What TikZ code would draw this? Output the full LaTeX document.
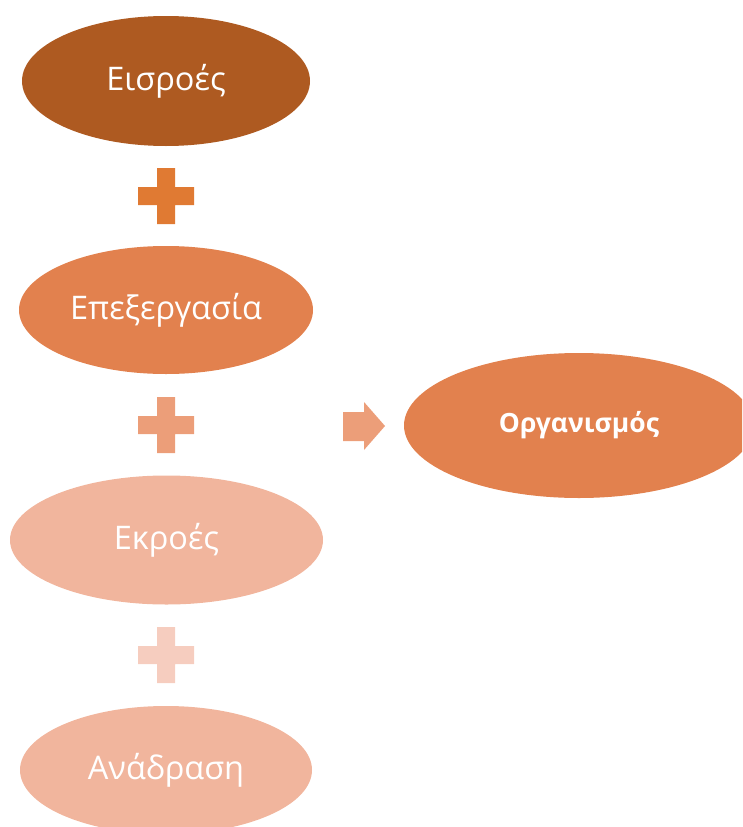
\documentclass[tikz,border=0pt]{standalone}
\usepackage{fontspec}
\setmainfont{Open Sans}
\usetikzlibrary{shapes.geometric,calc}
\definecolor{cInput}{HTML}{AE5A21}
\definecolor{cProc}{HTML}{E2814E}
\definecolor{cOut}{HTML}{F1B59D}
\definecolor{plusA}{HTML}{E07A33}
\definecolor{plusB}{HTML}{EC9E79}
\definecolor{plusC}{HTML}{F6CDBF}
\tikzset{
  stage/.style={ellipse, inner sep=0pt, text=white, font=\fontsize{32.5}{38}\selectfont},
}
% draws a plus sign of 56 px with 18 px arms centred at #1
\newcommand{\plusmark}[2]{%
  \fill[#2] ($#1+(-9,-28)$) -- ($#1+(9,-28)$) -- ($#1+(9,-9)$) -- ($#1+(28,-9)$)
    -- ($#1+(28,9)$) -- ($#1+(9,9)$) -- ($#1+(9,28)$) -- ($#1+(-9,28)$)
    -- ($#1+(-9,9)$) -- ($#1+(-28,9)$) -- ($#1+(-28,-9)$) -- ($#1+(-9,-9)$) -- cycle;}
\begin{document}
\begin{tikzpicture}[x=1pt,y=-1pt]
\useasboundingbox (0,0) rectangle (742,827);
\begin{scope}
\clip (0,0) rectangle (742,827);
\node[stage, fill=cInput, minimum width=288pt, minimum height=130pt] (in) at (166,81) {Εισροές};
\node[stage, fill=cProc, minimum width=294pt, minimum height=128pt] (proc) at (166,310) {Επεξεργασία};
\node[stage, fill=cOut, minimum width=313pt, minimum height=129pt] (out) at (166.5,540) {Εκροές};
\node[stage, fill=cOut, minimum width=292pt, minimum height=128pt] (fb) at (166,770) {Ανάδραση};
\node[stage, fill=cProc, minimum width=350pt, minimum height=145pt, font=\fontsize{26.5}{31}\selectfont\bfseries] (org) at (579,425.5) {Οργανισμός};
\end{scope}
\plusmark{(166,196)}{plusA}
\plusmark{(166,425)}{plusB}
\plusmark{(166,655)}{plusC}
% arrow towards the organisation
\fill[plusB] (343,412) -- (364,412) -- (364,402) -- (385,426) -- (364,450) -- (364,441) -- (343,441) -- cycle;
\end{tikzpicture}
\end{document}
